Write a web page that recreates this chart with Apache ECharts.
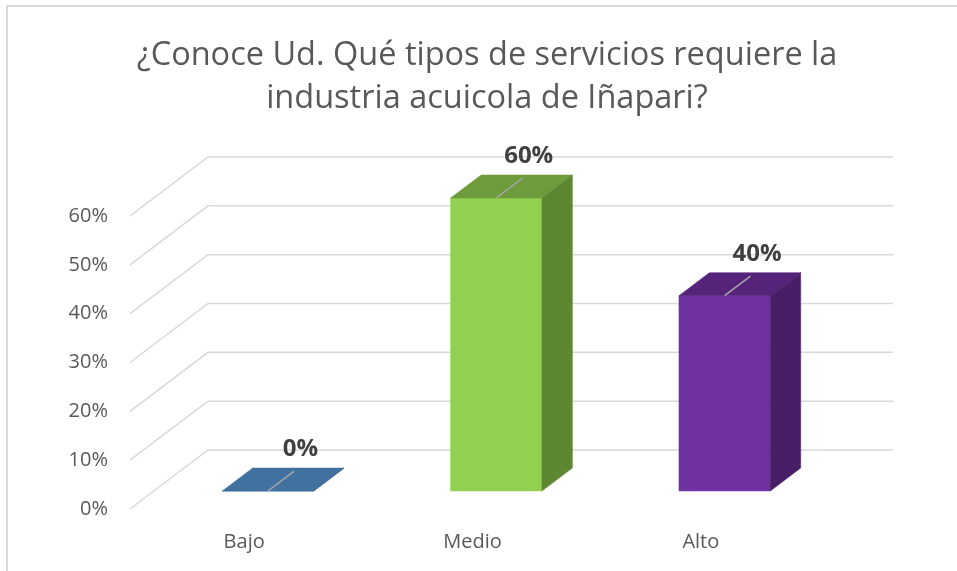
<!DOCTYPE html>
<html>
<head>
<meta charset="utf-8">
<script src="https://cdn.jsdelivr.net/npm/echarts@6/dist/echarts.min.js"></script>
<style>
  html, body { margin: 0; padding: 0; background: #fff; }
  #main { width: 957px; height: 571px; }
</style>
</head>
<body>
<div id="main"></div>
<script>
const titleText = '¿Conoce Ud. Qué tipos de servicios requiere la\nindustria acuicola de Iñapari?'
const categories = ['Bajo', 'Medio', 'Alto']
const values = [0, 60, 40]
const yTicks = [0, 10, 20, 30, 40, 50, 60]
// colores por barra: frente, cara superior, lado
const frontColors = ['#4a7ebb', '#92d050', '#7030a0']
const topColors = ['#41729f', '#6e9b3c', '#55237a']
const sideColors = ['#365f86', '#5e8731', '#481e66']

const depth = [78, -59] // fondo del piso 3D (dx, dy)
const barStart = 0.305 // donde empieza la barra en profundidad
const barDepth = 0.39 // grosor de la barra en profundidad
const fontFamily = '"Open Sans", "Noto Sans", sans-serif'

var chartDom = document.getElementById('main')
var myChart = echarts.init(chartDom)
var option

option = {
  animation: false,
  backgroundColor: '#fff',
  title: {
    text: titleText,
    left: 482,
    top: 29,
    textAlign: 'center',
    textStyle: {
      color: '#595959',
      fontWeight: 'normal',
      fontFamily: fontFamily,
      fontSize: 32.5,
      lineHeight: 43
    }
  },
  graphic: [
    { // marco del grafico
      type: 'rect',
      silent: true,
      shape: { x: 7, y: 6, width: 960, height: 600 },
      style: { fill: 'none', stroke: '#d9d9d9', lineWidth: 2 }
    }
  ],
  grid: {
    left: 130,
    right: 142,
    top: 216,
    bottom: 62
  },
  xAxis: {
    type: 'category',
    data: categories,
    axisLine: { show: false },
    axisTick: { show: false },
    axisLabel: {
      color: '#595959',
      fontFamily: fontFamily,
      fontSize: 20,
      margin: 23
    }
  },
  yAxis: {
    type: 'value',
    min: 0,
    max: 60,
    interval: 10,
    axisLine: { show: false },
    axisTick: { show: false },
    splitLine: { show: false },
    axisLabel: {
      formatter: '{value}%',
      color: '#595959',
      fontFamily: fontFamily,
      fontSize: 20,
      margin: 22
    }
  },
  series: [
    { // lineas de la grilla en perspectiva
      type: 'custom',
      silent: true,
      z: 1,
      data: yTicks.map(v => [0, v]),
      encode: { x: 0, y: 1 },
      renderItem: function(params, api) {
        const cs = params.coordSys
        const y = api.coord([0, api.value(1)])[1]
        return {
          type: 'polyline',
          shape: {
            points: [
              [cs.x, y],
              [cs.x + depth[0], y + depth[1]],
              [cs.x + cs.width + depth[0], y + depth[1]]
            ]
          },
          style: { fill: null, stroke: '#d9d9d9', lineWidth: 1.5 }
        }
      }
    },
    { // barras 3D
      type: 'custom',
      silent: true,
      z: 2,
      data: values.map((v, i) => [i, v]),
      encode: { x: 0, y: 1 },
      renderItem: function(params, api) {
        const i = api.value(0)
        const base = api.coord([i, 0])
        const top = api.coord([i, api.value(1)])
        const w = api.size([1, 0])[0] * 0.4
        const ox = depth[0] * barStart
        const oy = depth[1] * barStart
        const bx = depth[0] * barDepth
        const by = depth[1] * barDepth
        const x0 = base[0] - w / 2 + ox
        const x1 = x0 + w
        const yb = base[1] + oy
        const yt = top[1] + oy
        const cx = (x0 + x1) / 2
        return {
          type: 'group',
          children: [
            {
              type: 'polygon',
              shape: { points: [[x0, yt], [x1, yt], [x1, yb], [x0, yb]] },
              style: { fill: frontColors[i], stroke: frontColors[i], lineWidth: 0.5 }
            },
            {
              type: 'polygon',
              shape: { points: [[x0, yt], [x1, yt], [x1 + bx, yt + by], [x0 + bx, yt + by]] },
              style: { fill: topColors[i], stroke: topColors[i], lineWidth: 0.5 }
            },
            {
              type: 'polygon',
              shape: { points: [[x1, yt], [x1 + bx, yt + by], [x1 + bx, yb + by], [x1, yb]] },
              style: { fill: sideColors[i], stroke: sideColors[i], lineWidth: 0.5 }
            },
            { // linea guia de la etiqueta
              type: 'line',
              shape: { x1: cx, y1: yt, x2: cx + bx * 0.85, y2: yt + by * 0.85 },
              style: { stroke: '#a6a6a6', lineWidth: 1.5 }
            },
            {
              type: 'text',
              x: cx + bx + 2,
              y: yt + by - 19,
              style: {
                text: api.value(1) + '%',
                align: 'center',
                verticalAlign: 'middle',
                fill: '#404040',
                fontFamily: fontFamily,
                fontWeight: 'bold',
                fontSize: 24
              }
            }
          ]
        }
      }
    }
  ]
}

option && myChart.setOption(option)
</script>
</body>
</html>
